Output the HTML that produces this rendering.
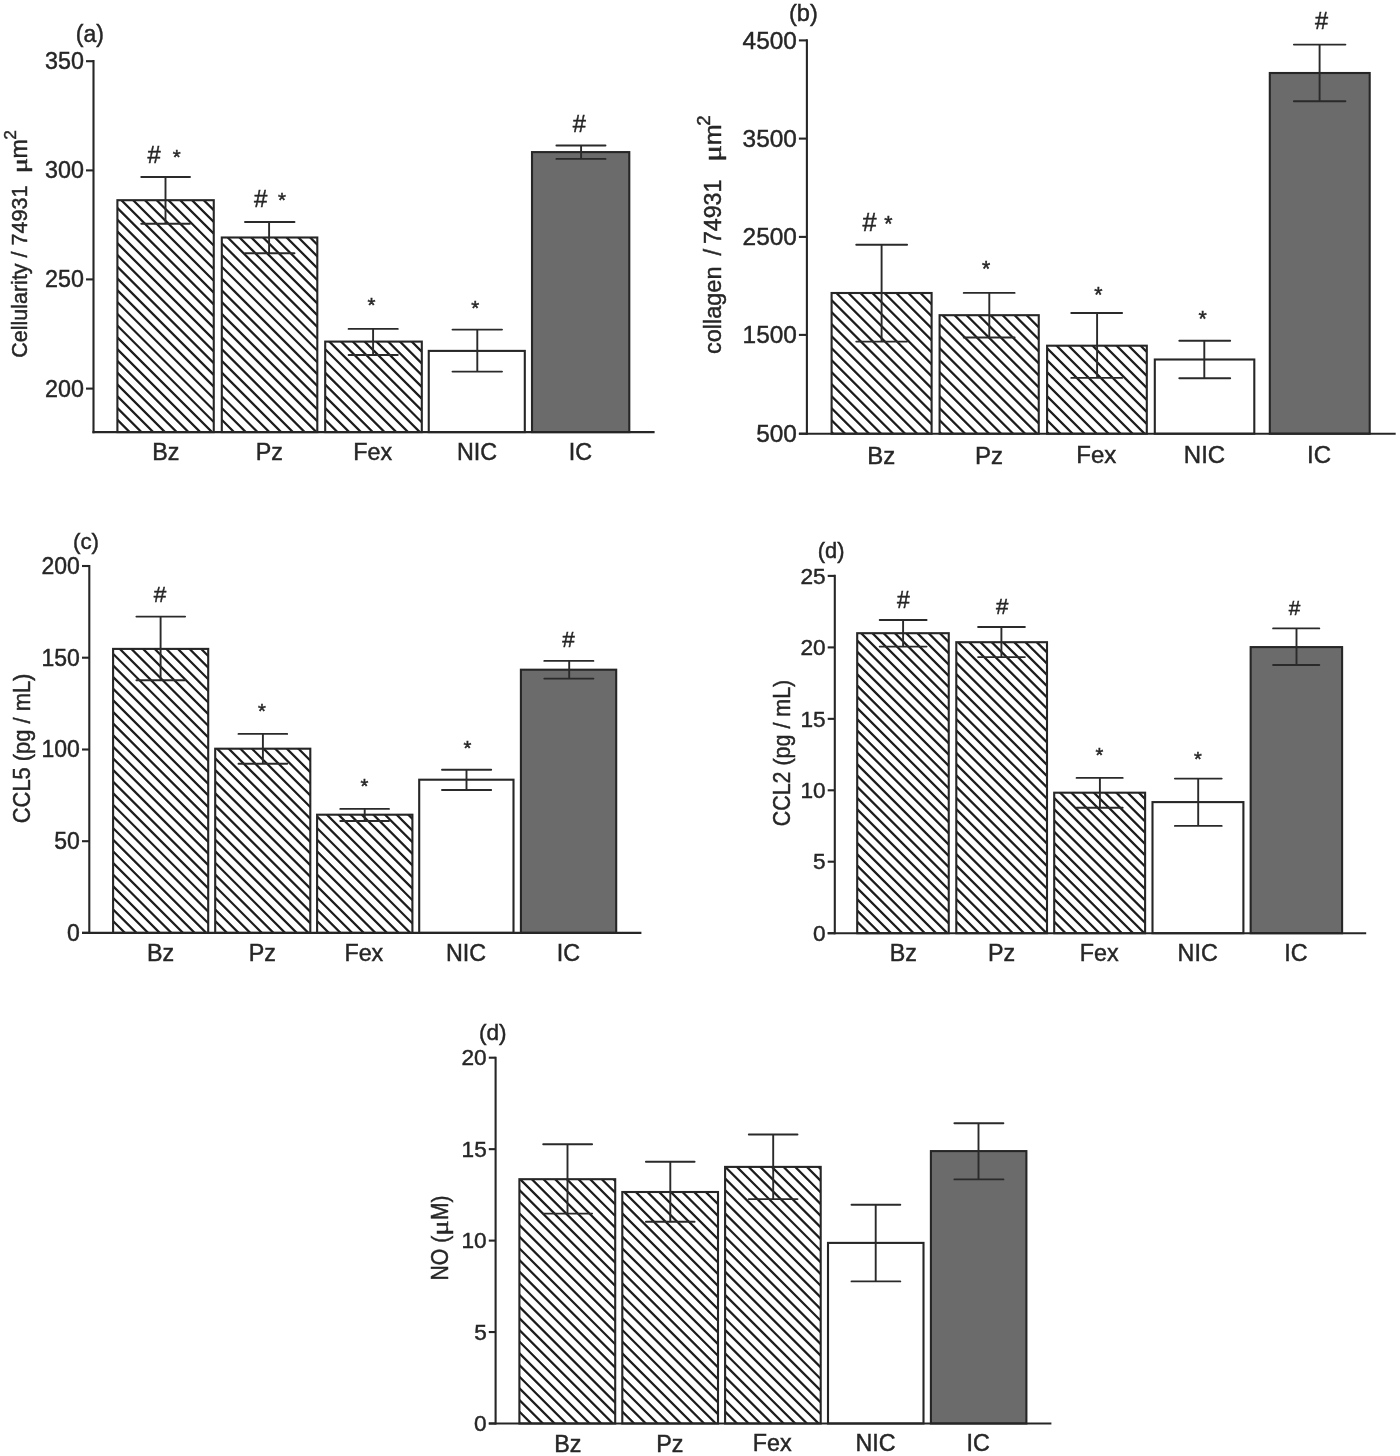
<!DOCTYPE html>
<html><head><meta charset="utf-8"><title>Figure</title>
<style>html,body{margin:0;padding:0;background:#fff;}body{width:1400px;height:1456px;overflow:hidden;font-family:"Liberation Sans",sans-serif;}svg{display:block;will-change:transform;}text{font-kerning:none;stroke:#262626;stroke-width:0.45px;}</style>
</head><body>
<svg width="1400" height="1456" viewBox="0 0 1400 1456" font-family="Liberation Sans, sans-serif" fill="#262626"><defs><clipPath id="c1"><rect x="117.40" y="200.20" width="96.35" height="231.90"/></clipPath><clipPath id="c2"><rect x="221.80" y="237.50" width="95.50" height="194.60"/></clipPath><clipPath id="c3"><rect x="325.20" y="341.60" width="96.60" height="90.50"/></clipPath><clipPath id="c4"><rect x="831.60" y="293.00" width="100.00" height="140.70"/></clipPath><clipPath id="c5"><rect x="939.60" y="315.20" width="99.15" height="118.50"/></clipPath><clipPath id="c6"><rect x="1047.10" y="345.70" width="99.70" height="88.00"/></clipPath><clipPath id="c7"><rect x="113.10" y="648.90" width="95.10" height="284.00"/></clipPath><clipPath id="c8"><rect x="215.20" y="748.70" width="95.10" height="184.20"/></clipPath><clipPath id="c9"><rect x="317.10" y="814.70" width="95.30" height="118.20"/></clipPath><clipPath id="c10"><rect x="857.20" y="633.20" width="91.55" height="300.00"/></clipPath><clipPath id="c11"><rect x="956.30" y="642.20" width="90.70" height="291.00"/></clipPath><clipPath id="c12"><rect x="1054.20" y="792.70" width="90.90" height="140.50"/></clipPath><clipPath id="c13"><rect x="519.40" y="1179.20" width="95.80" height="244.30"/></clipPath><clipPath id="c14"><rect x="622.30" y="1192.00" width="95.70" height="231.50"/></clipPath><clipPath id="c15"><rect x="725.10" y="1166.90" width="95.60" height="256.60"/></clipPath></defs><rect x="117.40" y="200.20" width="96.35" height="231.90" fill="#fff"/><path clip-path="url(#c1)" d="M-128.77 197.20L109.13 435.10M-117.00 197.20L120.90 435.10M-105.23 197.20L132.67 435.10M-93.46 197.20L144.44 435.10M-81.69 197.20L156.21 435.10M-69.92 197.20L167.98 435.10M-58.15 197.20L179.75 435.10M-46.38 197.20L191.52 435.10M-34.61 197.20L203.29 435.10M-22.84 197.20L215.06 435.10M-11.07 197.20L226.83 435.10M0.70 197.20L238.60 435.10M12.47 197.20L250.37 435.10M24.24 197.20L262.14 435.10M36.01 197.20L273.91 435.10M47.78 197.20L285.68 435.10M59.55 197.20L297.45 435.10M71.32 197.20L309.22 435.10M83.09 197.20L320.99 435.10M94.86 197.20L332.76 435.10M106.63 197.20L344.53 435.10M118.40 197.20L356.30 435.10M130.17 197.20L368.07 435.10M141.94 197.20L379.84 435.10M153.71 197.20L391.61 435.10M165.48 197.20L403.38 435.10M177.25 197.20L415.15 435.10M189.02 197.20L426.92 435.10M200.79 197.20L438.69 435.10M212.56 197.20L450.46 435.10" stroke="#1c1c1c" stroke-width="2.25" fill="none"/><rect x="117.40" y="200.20" width="96.35" height="231.90" fill="none" stroke="#262626" stroke-width="2.1"/><rect x="221.80" y="237.50" width="95.50" height="194.60" fill="#fff"/><path clip-path="url(#c2)" d="M12.93 234.50L213.53 435.10M24.70 234.50L225.30 435.10M36.47 234.50L237.07 435.10M48.24 234.50L248.84 435.10M60.01 234.50L260.61 435.10M71.78 234.50L272.38 435.10M83.55 234.50L284.15 435.10M95.32 234.50L295.92 435.10M107.09 234.50L307.69 435.10M118.86 234.50L319.46 435.10M130.63 234.50L331.23 435.10M142.40 234.50L343.00 435.10M154.17 234.50L354.77 435.10M165.94 234.50L366.54 435.10M177.71 234.50L378.31 435.10M189.48 234.50L390.08 435.10M201.25 234.50L401.85 435.10M213.02 234.50L413.62 435.10M224.79 234.50L425.39 435.10M236.56 234.50L437.16 435.10M248.33 234.50L448.93 435.10M260.10 234.50L460.70 435.10M271.87 234.50L472.47 435.10M283.64 234.50L484.24 435.10M295.41 234.50L496.01 435.10M307.18 234.50L507.78 435.10" stroke="#1c1c1c" stroke-width="2.25" fill="none"/><rect x="221.80" y="237.50" width="95.50" height="194.60" fill="none" stroke="#262626" stroke-width="2.1"/><rect x="325.20" y="341.60" width="96.60" height="90.50" fill="#fff"/><path clip-path="url(#c3)" d="M220.43 338.60L316.93 435.10M232.20 338.60L328.70 435.10M243.97 338.60L340.47 435.10M255.74 338.60L352.24 435.10M267.51 338.60L364.01 435.10M279.28 338.60L375.78 435.10M291.05 338.60L387.55 435.10M302.82 338.60L399.32 435.10M314.59 338.60L411.09 435.10M326.36 338.60L422.86 435.10M338.13 338.60L434.63 435.10M349.90 338.60L446.40 435.10M361.67 338.60L458.17 435.10M373.44 338.60L469.94 435.10M385.21 338.60L481.71 435.10M396.98 338.60L493.48 435.10M408.75 338.60L505.25 435.10M420.52 338.60L517.02 435.10" stroke="#1c1c1c" stroke-width="2.25" fill="none"/><rect x="325.20" y="341.60" width="96.60" height="90.50" fill="none" stroke="#262626" stroke-width="2.1"/><rect x="428.75" y="350.90" width="96.05" height="81.20" fill="#fff" stroke="#262626" stroke-width="2.1"/><rect x="532.00" y="152.10" width="97.30" height="280.00" fill="#6b6b6b" stroke="#262626" stroke-width="2.1"/><path d="M165.50 177.00V223.75M141.25 177.00H190.00M141.25 223.75H190.00" stroke="#2a2a2a" stroke-width="1.9" stroke-linecap="round" fill="none"/><path d="M269.10 222.00V253.20M245.00 222.00H294.50M245.00 253.20H294.50" stroke="#2a2a2a" stroke-width="1.9" stroke-linecap="round" fill="none"/><path d="M373.10 328.90V355.00M348.60 328.90H397.80M348.60 355.00H397.80" stroke="#2a2a2a" stroke-width="1.9" stroke-linecap="round" fill="none"/><path d="M477.30 329.60V371.60M452.50 329.60H502.00M452.50 371.60H502.00" stroke="#2a2a2a" stroke-width="1.9" stroke-linecap="round" fill="none"/><path d="M581.10 145.50V158.90M556.40 145.50H605.50M556.40 158.90H605.50" stroke="#2a2a2a" stroke-width="1.9" stroke-linecap="round" fill="none"/><line x1="93.50" y1="59.95" x2="93.50" y2="433.15" stroke="#262626" stroke-width="2.1"/><line x1="92.45" y1="432.10" x2="654.60" y2="432.10" stroke="#262626" stroke-width="2.1"/><line x1="86.00" y1="61.20" x2="93.50" y2="61.20" stroke="#262626" stroke-width="2.1"/><text x="45.04" y="69.22" font-size="23.3">350</text><line x1="86.00" y1="170.40" x2="93.50" y2="170.40" stroke="#262626" stroke-width="2.1"/><text x="45.04" y="178.42" font-size="23.3">300</text><line x1="86.00" y1="279.40" x2="93.50" y2="279.40" stroke="#262626" stroke-width="2.1"/><text x="45.04" y="287.42" font-size="23.3">250</text><line x1="86.00" y1="388.60" x2="93.50" y2="388.60" stroke="#262626" stroke-width="2.1"/><text x="45.04" y="396.62" font-size="23.3">200</text><text x="152.13" y="460.00" font-size="23.3" >Bz</text><text x="255.63" y="460.00" font-size="23.3" >Pz</text><text x="353.25" y="459.77" font-size="23.3" >Fex</text><text x="457.02" y="459.77" font-size="23.3" >NIC</text><text x="568.72" y="459.77" font-size="23.3" >IC</text><text x="147.62" y="162.61" font-size="23.7">#</text><text x="172.76" y="163.71" font-size="20.5">*</text><text x="254.03" y="206.51" font-size="24.0">#</text><text x="277.96" y="207.21" font-size="20.5">*</text><text x="367.56" y="311.96" font-size="20.5">*</text><text x="471.18" y="315.11" font-size="20.5">*</text><text x="572.82" y="132.21" font-size="23.7">#</text><text x="75.75" y="42.00" font-size="23.0">(a)</text><text transform="translate(26.60 357.79) rotate(-90) scale(0.9564 1)" x="0" y="0" font-size="22.5">Cellularity / 74931</text><text transform="translate(26.60 173.31) rotate(-90) scale(1.2954 1)" x="0" y="0" font-size="22" font-family="Liberation Serif">μ</text><text transform="translate(26.60 158.54) rotate(-90) scale(0.9899 1)" x="0" y="0" font-size="23.5">m</text><text transform="translate(15.90 139.87) rotate(-90) scale(1.0446 1)" x="0" y="0" font-size="16.6">2</text><rect x="831.60" y="293.00" width="100.00" height="140.70" fill="#fff"/><path clip-path="url(#c4)" d="M677.40 290.00L824.10 436.70M689.40 290.00L836.10 436.70M701.40 290.00L848.10 436.70M713.40 290.00L860.10 436.70M725.40 290.00L872.10 436.70M737.40 290.00L884.10 436.70M749.40 290.00L896.10 436.70M761.40 290.00L908.10 436.70M773.40 290.00L920.10 436.70M785.40 290.00L932.10 436.70M797.40 290.00L944.10 436.70M809.40 290.00L956.10 436.70M821.40 290.00L968.10 436.70M833.40 290.00L980.10 436.70M845.40 290.00L992.10 436.70M857.40 290.00L1004.10 436.70M869.40 290.00L1016.10 436.70M881.40 290.00L1028.10 436.70M893.40 290.00L1040.10 436.70M905.40 290.00L1052.10 436.70M917.40 290.00L1064.10 436.70M929.40 290.00L1076.10 436.70" stroke="#1c1c1c" stroke-width="2.25" fill="none"/><rect x="831.60" y="293.00" width="100.00" height="140.70" fill="none" stroke="#262626" stroke-width="2.1"/><rect x="939.60" y="315.20" width="99.15" height="118.50" fill="#fff"/><path clip-path="url(#c5)" d="M807.60 312.20L932.10 436.70M819.60 312.20L944.10 436.70M831.60 312.20L956.10 436.70M843.60 312.20L968.10 436.70M855.60 312.20L980.10 436.70M867.60 312.20L992.10 436.70M879.60 312.20L1004.10 436.70M891.60 312.20L1016.10 436.70M903.60 312.20L1028.10 436.70M915.60 312.20L1040.10 436.70M927.60 312.20L1052.10 436.70M939.60 312.20L1064.10 436.70M951.60 312.20L1076.10 436.70M963.60 312.20L1088.10 436.70M975.60 312.20L1100.10 436.70M987.60 312.20L1112.10 436.70M999.60 312.20L1124.10 436.70M1011.60 312.20L1136.10 436.70M1023.60 312.20L1148.10 436.70M1035.60 312.20L1160.10 436.70" stroke="#1c1c1c" stroke-width="2.25" fill="none"/><rect x="939.60" y="315.20" width="99.15" height="118.50" fill="none" stroke="#262626" stroke-width="2.1"/><rect x="1047.10" y="345.70" width="99.70" height="88.00" fill="#fff"/><path clip-path="url(#c6)" d="M945.60 342.70L1039.60 436.70M957.60 342.70L1051.60 436.70M969.60 342.70L1063.60 436.70M981.60 342.70L1075.60 436.70M993.60 342.70L1087.60 436.70M1005.60 342.70L1099.60 436.70M1017.60 342.70L1111.60 436.70M1029.60 342.70L1123.60 436.70M1041.60 342.70L1135.60 436.70M1053.60 342.70L1147.60 436.70M1065.60 342.70L1159.60 436.70M1077.60 342.70L1171.60 436.70M1089.60 342.70L1183.60 436.70M1101.60 342.70L1195.60 436.70M1113.60 342.70L1207.60 436.70M1125.60 342.70L1219.60 436.70M1137.60 342.70L1231.60 436.70" stroke="#1c1c1c" stroke-width="2.25" fill="none"/><rect x="1047.10" y="345.70" width="99.70" height="88.00" fill="none" stroke="#262626" stroke-width="2.1"/><rect x="1154.80" y="359.50" width="99.50" height="74.20" fill="#fff" stroke="#262626" stroke-width="2.1"/><rect x="1269.80" y="73.00" width="99.90" height="360.70" fill="#6b6b6b" stroke="#262626" stroke-width="2.1"/><path d="M881.60 244.80V341.60M856.25 244.80H907.10M856.25 341.60H907.10" stroke="#2a2a2a" stroke-width="1.9" stroke-linecap="round" fill="none"/><path d="M989.30 292.90V337.50M963.75 292.90H1014.60M963.75 337.50H1014.60" stroke="#2a2a2a" stroke-width="1.9" stroke-linecap="round" fill="none"/><path d="M1097.10 313.00V377.90M1071.25 313.00H1122.10M1071.25 377.90H1122.10" stroke="#2a2a2a" stroke-width="1.9" stroke-linecap="round" fill="none"/><path d="M1204.30 340.70V378.20M1179.30 340.70H1230.20M1179.30 378.20H1230.20" stroke="#2a2a2a" stroke-width="1.9" stroke-linecap="round" fill="none"/><path d="M1319.60 44.60V101.20M1293.90 44.60H1345.40M1293.90 101.20H1345.40" stroke="#2a2a2a" stroke-width="1.9" stroke-linecap="round" fill="none"/><line x1="806.90" y1="39.35" x2="806.90" y2="434.75" stroke="#262626" stroke-width="2.1"/><line x1="798.90" y1="433.70" x2="1395.70" y2="433.70" stroke="#262626" stroke-width="2.1"/><line x1="798.90" y1="40.40" x2="806.90" y2="40.40" stroke="#262626" stroke-width="2.1"/><text x="742.57" y="48.80" font-size="24.4">4500</text><line x1="798.90" y1="138.60" x2="806.90" y2="138.60" stroke="#262626" stroke-width="2.1"/><text x="742.57" y="147.00" font-size="24.4">3500</text><line x1="798.90" y1="236.90" x2="806.90" y2="236.90" stroke="#262626" stroke-width="2.1"/><text x="742.57" y="245.30" font-size="24.4">2500</text><line x1="798.90" y1="334.90" x2="806.90" y2="334.90" stroke="#262626" stroke-width="2.1"/><text x="742.57" y="343.30" font-size="24.4">1500</text><line x1="798.90" y1="433.70" x2="806.90" y2="433.70" stroke="#262626" stroke-width="2.1"/><text x="756.14" y="442.10" font-size="24.4">500</text><text x="867.21" y="463.60" font-size="24" >Bz</text><text x="974.91" y="463.60" font-size="24" >Pz</text><text x="1076.24" y="463.37" font-size="24" >Fex</text><text x="1183.81" y="463.37" font-size="24" >NIC</text><text x="1307.05" y="463.37" font-size="24" >IC</text><text x="862.55" y="230.60" font-size="25.3">#</text><text x="884.32" y="231.46" font-size="21.2">*</text><text x="982.12" y="276.14" font-size="21.2">*</text><text x="1094.37" y="301.56" font-size="21.2">*</text><text x="1198.52" y="325.69" font-size="21.2">*</text><text x="1314.92" y="28.59" font-size="23.5">#</text><text x="788.93" y="21.46" font-size="23.6">(b)</text><text transform="translate(720.80 354.00) rotate(-90) scale(0.9790 1)" x="0" y="0" font-size="24">collagen</text><text transform="translate(720.80 255.60) rotate(-90) scale(0.9898 1)" x="0" y="0" font-size="24">/</text><text transform="translate(720.80 244.09) rotate(-90) scale(0.9668 1)" x="0" y="0" font-size="24">74931</text><text transform="translate(720.80 161.63) rotate(-90) scale(1.2874 1)" x="0" y="0" font-size="24.2" font-family="Liberation Serif">μ</text><text transform="translate(720.80 145.36) rotate(-90) scale(1.0194 1)" x="0" y="0" font-size="24.5">m</text><text transform="translate(709.80 125.74) rotate(-90) scale(1.0366 1)" x="0" y="0" font-size="18">2</text><rect x="113.10" y="648.90" width="95.10" height="284.00" fill="#fff"/><path clip-path="url(#c7)" d="M-185.32 645.90L104.68 935.90M-173.70 645.90L116.30 935.90M-162.08 645.90L127.92 935.90M-150.46 645.90L139.54 935.90M-138.84 645.90L151.16 935.90M-127.22 645.90L162.78 935.90M-115.60 645.90L174.40 935.90M-103.98 645.90L186.02 935.90M-92.36 645.90L197.64 935.90M-80.74 645.90L209.26 935.90M-69.12 645.90L220.88 935.90M-57.50 645.90L232.50 935.90M-45.88 645.90L244.12 935.90M-34.26 645.90L255.74 935.90M-22.64 645.90L267.36 935.90M-11.02 645.90L278.98 935.90M0.60 645.90L290.60 935.90M12.22 645.90L302.22 935.90M23.84 645.90L313.84 935.90M35.46 645.90L325.46 935.90M47.08 645.90L337.08 935.90M58.70 645.90L348.70 935.90M70.32 645.90L360.32 935.90M81.94 645.90L371.94 935.90M93.56 645.90L383.56 935.90M105.18 645.90L395.18 935.90M116.80 645.90L406.80 935.90M128.42 645.90L418.42 935.90M140.04 645.90L430.04 935.90M151.66 645.90L441.66 935.90M163.28 645.90L453.28 935.90M174.90 645.90L464.90 935.90M186.52 645.90L476.52 935.90M198.14 645.90L488.14 935.90" stroke="#1c1c1c" stroke-width="2.25" fill="none"/><rect x="113.10" y="648.90" width="95.10" height="284.00" fill="none" stroke="#262626" stroke-width="2.1"/><rect x="215.20" y="748.70" width="95.10" height="184.20" fill="#fff"/><path clip-path="url(#c8)" d="M16.58 745.70L206.78 935.90M28.20 745.70L218.40 935.90M39.82 745.70L230.02 935.90M51.44 745.70L241.64 935.90M63.06 745.70L253.26 935.90M74.68 745.70L264.88 935.90M86.30 745.70L276.50 935.90M97.92 745.70L288.12 935.90M109.54 745.70L299.74 935.90M121.16 745.70L311.36 935.90M132.78 745.70L322.98 935.90M144.40 745.70L334.60 935.90M156.02 745.70L346.22 935.90M167.64 745.70L357.84 935.90M179.26 745.70L369.46 935.90M190.88 745.70L381.08 935.90M202.50 745.70L392.70 935.90M214.12 745.70L404.32 935.90M225.74 745.70L415.94 935.90M237.36 745.70L427.56 935.90M248.98 745.70L439.18 935.90M260.60 745.70L450.80 935.90M272.22 745.70L462.42 935.90M283.84 745.70L474.04 935.90M295.46 745.70L485.66 935.90M307.08 745.70L497.28 935.90" stroke="#1c1c1c" stroke-width="2.25" fill="none"/><rect x="215.20" y="748.70" width="95.10" height="184.20" fill="none" stroke="#262626" stroke-width="2.1"/><rect x="317.10" y="814.70" width="95.30" height="118.20" fill="#fff"/><path clip-path="url(#c9)" d="M184.48 811.70L308.68 935.90M196.10 811.70L320.30 935.90M207.72 811.70L331.92 935.90M219.34 811.70L343.54 935.90M230.96 811.70L355.16 935.90M242.58 811.70L366.78 935.90M254.20 811.70L378.40 935.90M265.82 811.70L390.02 935.90M277.44 811.70L401.64 935.90M289.06 811.70L413.26 935.90M300.68 811.70L424.88 935.90M312.30 811.70L436.50 935.90M323.92 811.70L448.12 935.90M335.54 811.70L459.74 935.90M347.16 811.70L471.36 935.90M358.78 811.70L482.98 935.90M370.40 811.70L494.60 935.90M382.02 811.70L506.22 935.90M393.64 811.70L517.84 935.90M405.26 811.70L529.46 935.90" stroke="#1c1c1c" stroke-width="2.25" fill="none"/><rect x="317.10" y="814.70" width="95.30" height="118.20" fill="none" stroke="#262626" stroke-width="2.1"/><rect x="419.20" y="779.70" width="94.30" height="153.20" fill="#fff" stroke="#262626" stroke-width="2.1"/><rect x="520.90" y="669.70" width="95.30" height="263.20" fill="#6b6b6b" stroke="#262626" stroke-width="2.1"/><path d="M160.60 616.60V680.30M136.40 616.60H185.10M136.40 680.30H185.10" stroke="#2a2a2a" stroke-width="1.9" stroke-linecap="round" fill="none"/><path d="M262.90 733.90V763.80M238.50 733.90H287.20M238.50 763.80H287.20" stroke="#2a2a2a" stroke-width="1.9" stroke-linecap="round" fill="none"/><path d="M364.70 808.90V821.00M340.30 808.90H389.00M340.30 821.00H389.00" stroke="#2a2a2a" stroke-width="1.9" stroke-linecap="round" fill="none"/><path d="M466.50 769.80V790.00M442.00 769.80H491.20M442.00 790.00H491.20" stroke="#2a2a2a" stroke-width="1.9" stroke-linecap="round" fill="none"/><path d="M569.20 660.90V678.60M544.30 660.90H593.40M544.30 678.60H593.40" stroke="#2a2a2a" stroke-width="1.9" stroke-linecap="round" fill="none"/><line x1="89.30" y1="564.95" x2="89.30" y2="933.95" stroke="#262626" stroke-width="2.1"/><line x1="82.00" y1="932.90" x2="641.40" y2="932.90" stroke="#262626" stroke-width="2.1"/><line x1="82.00" y1="566.00" x2="89.30" y2="566.00" stroke="#262626" stroke-width="2.1"/><text x="41.52" y="573.92" font-size="23">200</text><line x1="82.00" y1="657.70" x2="89.30" y2="657.70" stroke="#262626" stroke-width="2.1"/><text x="41.52" y="665.62" font-size="23">150</text><line x1="82.00" y1="749.50" x2="89.30" y2="749.50" stroke="#262626" stroke-width="2.1"/><text x="41.52" y="757.42" font-size="23">100</text><line x1="82.00" y1="841.20" x2="89.30" y2="841.20" stroke="#262626" stroke-width="2.1"/><text x="54.32" y="849.12" font-size="23">50</text><line x1="82.00" y1="932.90" x2="89.30" y2="932.90" stroke="#262626" stroke-width="2.1"/><text x="67.11" y="940.82" font-size="23">0</text><text x="147.03" y="960.90" font-size="23.3" >Bz</text><text x="248.83" y="960.90" font-size="23.3" >Pz</text><text x="344.45" y="960.67" font-size="23.3" >Fex</text><text x="445.92" y="960.67" font-size="23.3" >NIC</text><text x="556.72" y="960.67" font-size="23.3" >IC</text><text x="153.65" y="601.70" font-size="22.5">#</text><text x="257.90" y="718.30" font-size="20.3">*</text><text x="360.60" y="793.35" font-size="20.3">*</text><text x="463.50" y="754.95" font-size="20.3">*</text><text x="562.35" y="646.60" font-size="22.5">#</text><text x="73.05" y="549.12" font-size="22.3">(c)</text><text transform="translate(29.50 823.21) rotate(-90) scale(0.9438 1)" x="0" y="0" font-size="23.2">CCL5 (pg / mL)</text><rect x="857.20" y="633.20" width="91.55" height="300.00" fill="#fff"/><path clip-path="url(#c10)" d="M543.15 630.20L849.15 936.20M554.40 630.20L860.40 936.20M565.65 630.20L871.65 936.20M576.90 630.20L882.90 936.20M588.15 630.20L894.15 936.20M599.40 630.20L905.40 936.20M610.65 630.20L916.65 936.20M621.90 630.20L927.90 936.20M633.15 630.20L939.15 936.20M644.40 630.20L950.40 936.20M655.65 630.20L961.65 936.20M666.90 630.20L972.90 936.20M678.15 630.20L984.15 936.20M689.40 630.20L995.40 936.20M700.65 630.20L1006.65 936.20M711.90 630.20L1017.90 936.20M723.15 630.20L1029.15 936.20M734.40 630.20L1040.40 936.20M745.65 630.20L1051.65 936.20M756.90 630.20L1062.90 936.20M768.15 630.20L1074.15 936.20M779.40 630.20L1085.40 936.20M790.65 630.20L1096.65 936.20M801.90 630.20L1107.90 936.20M813.15 630.20L1119.15 936.20M824.40 630.20L1130.40 936.20M835.65 630.20L1141.65 936.20M846.90 630.20L1152.90 936.20M858.15 630.20L1164.15 936.20M869.40 630.20L1175.40 936.20M880.65 630.20L1186.65 936.20M891.90 630.20L1197.90 936.20M903.15 630.20L1209.15 936.20M914.40 630.20L1220.40 936.20M925.65 630.20L1231.65 936.20M936.90 630.20L1242.90 936.20" stroke="#1c1c1c" stroke-width="2.25" fill="none"/><rect x="857.20" y="633.20" width="91.55" height="300.00" fill="none" stroke="#262626" stroke-width="2.1"/><rect x="956.30" y="642.20" width="90.70" height="291.00" fill="#fff"/><path clip-path="url(#c11)" d="M651.25 639.20L948.25 936.20M662.50 639.20L959.50 936.20M673.75 639.20L970.75 936.20M685.00 639.20L982.00 936.20M696.25 639.20L993.25 936.20M707.50 639.20L1004.50 936.20M718.75 639.20L1015.75 936.20M730.00 639.20L1027.00 936.20M741.25 639.20L1038.25 936.20M752.50 639.20L1049.50 936.20M763.75 639.20L1060.75 936.20M775.00 639.20L1072.00 936.20M786.25 639.20L1083.25 936.20M797.50 639.20L1094.50 936.20M808.75 639.20L1105.75 936.20M820.00 639.20L1117.00 936.20M831.25 639.20L1128.25 936.20M842.50 639.20L1139.50 936.20M853.75 639.20L1150.75 936.20M865.00 639.20L1162.00 936.20M876.25 639.20L1173.25 936.20M887.50 639.20L1184.50 936.20M898.75 639.20L1195.75 936.20M910.00 639.20L1207.00 936.20M921.25 639.20L1218.25 936.20M932.50 639.20L1229.50 936.20M943.75 639.20L1240.75 936.20M955.00 639.20L1252.00 936.20M966.25 639.20L1263.25 936.20M977.50 639.20L1274.50 936.20M988.75 639.20L1285.75 936.20M1000.00 639.20L1297.00 936.20M1011.25 639.20L1308.25 936.20M1022.50 639.20L1319.50 936.20M1033.75 639.20L1330.75 936.20M1045.00 639.20L1342.00 936.20" stroke="#1c1c1c" stroke-width="2.25" fill="none"/><rect x="956.30" y="642.20" width="90.70" height="291.00" fill="none" stroke="#262626" stroke-width="2.1"/><rect x="1054.20" y="792.70" width="90.90" height="140.50" fill="#fff"/><path clip-path="url(#c12)" d="M899.65 789.70L1046.15 936.20M910.90 789.70L1057.40 936.20M922.15 789.70L1068.65 936.20M933.40 789.70L1079.90 936.20M944.65 789.70L1091.15 936.20M955.90 789.70L1102.40 936.20M967.15 789.70L1113.65 936.20M978.40 789.70L1124.90 936.20M989.65 789.70L1136.15 936.20M1000.90 789.70L1147.40 936.20M1012.15 789.70L1158.65 936.20M1023.40 789.70L1169.90 936.20M1034.65 789.70L1181.15 936.20M1045.90 789.70L1192.40 936.20M1057.15 789.70L1203.65 936.20M1068.40 789.70L1214.90 936.20M1079.65 789.70L1226.15 936.20M1090.90 789.70L1237.40 936.20M1102.15 789.70L1248.65 936.20M1113.40 789.70L1259.90 936.20M1124.65 789.70L1271.15 936.20M1135.90 789.70L1282.40 936.20" stroke="#1c1c1c" stroke-width="2.25" fill="none"/><rect x="1054.20" y="792.70" width="90.90" height="140.50" fill="none" stroke="#262626" stroke-width="2.1"/><rect x="1152.50" y="802.10" width="90.90" height="131.10" fill="#fff" stroke="#262626" stroke-width="2.1"/><rect x="1250.65" y="647.10" width="91.45" height="286.10" fill="#6b6b6b" stroke="#262626" stroke-width="2.1"/><path d="M903.10 620.00V646.60M879.70 620.00H926.60M879.70 646.60H926.60" stroke="#2a2a2a" stroke-width="1.9" stroke-linecap="round" fill="none"/><path d="M1001.40 627.00V657.10M978.10 627.00H1024.90M978.10 657.10H1024.90" stroke="#2a2a2a" stroke-width="1.9" stroke-linecap="round" fill="none"/><path d="M1099.90 777.90V807.80M1076.60 777.90H1122.70M1076.60 807.80H1122.70" stroke="#2a2a2a" stroke-width="1.9" stroke-linecap="round" fill="none"/><path d="M1198.20 778.60V825.90M1174.90 778.60H1221.70M1174.90 825.90H1221.70" stroke="#2a2a2a" stroke-width="1.9" stroke-linecap="round" fill="none"/><path d="M1296.50 628.40V665.00M1273.10 628.40H1319.30M1273.10 665.00H1319.30" stroke="#2a2a2a" stroke-width="1.9" stroke-linecap="round" fill="none"/><line x1="834.80" y1="574.85" x2="834.80" y2="934.25" stroke="#262626" stroke-width="2.1"/><line x1="827.70" y1="933.20" x2="1366.20" y2="933.20" stroke="#262626" stroke-width="2.1"/><line x1="827.70" y1="575.90" x2="834.80" y2="575.90" stroke="#262626" stroke-width="2.1"/><text x="800.51" y="583.68" font-size="22.6">25</text><line x1="827.70" y1="647.40" x2="834.80" y2="647.40" stroke="#262626" stroke-width="2.1"/><text x="800.44" y="655.18" font-size="22.6">20</text><line x1="827.70" y1="718.85" x2="834.80" y2="718.85" stroke="#262626" stroke-width="2.1"/><text x="800.51" y="726.51" font-size="22.6">15</text><line x1="827.70" y1="790.30" x2="834.80" y2="790.30" stroke="#262626" stroke-width="2.1"/><text x="800.44" y="798.08" font-size="22.6">10</text><line x1="827.70" y1="861.70" x2="834.80" y2="861.70" stroke="#262626" stroke-width="2.1"/><text x="813.08" y="869.36" font-size="22.6">5</text><line x1="827.70" y1="933.20" x2="834.80" y2="933.20" stroke="#262626" stroke-width="2.1"/><text x="813.01" y="940.98" font-size="22.6">0</text><text x="889.73" y="961.00" font-size="23.3" >Bz</text><text x="988.03" y="961.00" font-size="23.3" >Pz</text><text x="1079.75" y="960.77" font-size="23.3" >Fex</text><text x="1177.62" y="960.77" font-size="23.3" >NIC</text><text x="1284.22" y="960.77" font-size="23.3" >IC</text><text x="896.91" y="607.72" font-size="23.0">#</text><text x="995.98" y="613.99" font-size="22.2">#</text><text x="1095.55" y="762.10" font-size="20">*</text><text x="1194.00" y="765.95" font-size="20">*</text><text x="1288.87" y="614.81" font-size="20.8">#</text><text x="817.83" y="557.74" font-size="21.8">(d)</text><text transform="translate(789.50 826.29) rotate(-90) scale(0.9246 1)" x="0" y="0" font-size="23.2">CCL2 (pg / mL)</text><rect x="519.40" y="1179.20" width="95.80" height="244.30" fill="#fff"/><path clip-path="url(#c13)" d="M260.64 1176.20L510.94 1426.50M272.30 1176.20L522.60 1426.50M283.96 1176.20L534.26 1426.50M295.62 1176.20L545.92 1426.50M307.28 1176.20L557.58 1426.50M318.94 1176.20L569.24 1426.50M330.60 1176.20L580.90 1426.50M342.26 1176.20L592.56 1426.50M353.92 1176.20L604.22 1426.50M365.58 1176.20L615.88 1426.50M377.24 1176.20L627.54 1426.50M388.90 1176.20L639.20 1426.50M400.56 1176.20L650.86 1426.50M412.22 1176.20L662.52 1426.50M423.88 1176.20L674.18 1426.50M435.54 1176.20L685.84 1426.50M447.20 1176.20L697.50 1426.50M458.86 1176.20L709.16 1426.50M470.52 1176.20L720.82 1426.50M482.18 1176.20L732.48 1426.50M493.84 1176.20L744.14 1426.50M505.50 1176.20L755.80 1426.50M517.16 1176.20L767.46 1426.50M528.82 1176.20L779.12 1426.50M540.48 1176.20L790.78 1426.50M552.14 1176.20L802.44 1426.50M563.80 1176.20L814.10 1426.50M575.46 1176.20L825.76 1426.50M587.12 1176.20L837.42 1426.50M598.78 1176.20L849.08 1426.50M610.44 1176.20L860.74 1426.50" stroke="#1c1c1c" stroke-width="2.25" fill="none"/><rect x="519.40" y="1179.20" width="95.80" height="244.30" fill="none" stroke="#262626" stroke-width="2.1"/><rect x="622.30" y="1192.00" width="95.70" height="231.50" fill="#fff"/><path clip-path="url(#c14)" d="M376.34 1189.00L613.84 1426.50M388.00 1189.00L625.50 1426.50M399.66 1189.00L637.16 1426.50M411.32 1189.00L648.82 1426.50M422.98 1189.00L660.48 1426.50M434.64 1189.00L672.14 1426.50M446.30 1189.00L683.80 1426.50M457.96 1189.00L695.46 1426.50M469.62 1189.00L707.12 1426.50M481.28 1189.00L718.78 1426.50M492.94 1189.00L730.44 1426.50M504.60 1189.00L742.10 1426.50M516.26 1189.00L753.76 1426.50M527.92 1189.00L765.42 1426.50M539.58 1189.00L777.08 1426.50M551.24 1189.00L788.74 1426.50M562.90 1189.00L800.40 1426.50M574.56 1189.00L812.06 1426.50M586.22 1189.00L823.72 1426.50M597.88 1189.00L835.38 1426.50M609.54 1189.00L847.04 1426.50M621.20 1189.00L858.70 1426.50M632.86 1189.00L870.36 1426.50M644.52 1189.00L882.02 1426.50M656.18 1189.00L893.68 1426.50M667.84 1189.00L905.34 1426.50M679.50 1189.00L917.00 1426.50M691.16 1189.00L928.66 1426.50M702.82 1189.00L940.32 1426.50M714.48 1189.00L951.98 1426.50" stroke="#1c1c1c" stroke-width="2.25" fill="none"/><rect x="622.30" y="1192.00" width="95.70" height="231.50" fill="none" stroke="#262626" stroke-width="2.1"/><rect x="725.10" y="1166.90" width="95.60" height="256.60" fill="#fff"/><path clip-path="url(#c15)" d="M454.04 1163.90L716.64 1426.50M465.70 1163.90L728.30 1426.50M477.36 1163.90L739.96 1426.50M489.02 1163.90L751.62 1426.50M500.68 1163.90L763.28 1426.50M512.34 1163.90L774.94 1426.50M524.00 1163.90L786.60 1426.50M535.66 1163.90L798.26 1426.50M547.32 1163.90L809.92 1426.50M558.98 1163.90L821.58 1426.50M570.64 1163.90L833.24 1426.50M582.30 1163.90L844.90 1426.50M593.96 1163.90L856.56 1426.50M605.62 1163.90L868.22 1426.50M617.28 1163.90L879.88 1426.50M628.94 1163.90L891.54 1426.50M640.60 1163.90L903.20 1426.50M652.26 1163.90L914.86 1426.50M663.92 1163.90L926.52 1426.50M675.58 1163.90L938.18 1426.50M687.24 1163.90L949.84 1426.50M698.90 1163.90L961.50 1426.50M710.56 1163.90L973.16 1426.50M722.22 1163.90L984.82 1426.50M733.88 1163.90L996.48 1426.50M745.54 1163.90L1008.14 1426.50M757.20 1163.90L1019.80 1426.50M768.86 1163.90L1031.46 1426.50M780.52 1163.90L1043.12 1426.50M792.18 1163.90L1054.78 1426.50M803.84 1163.90L1066.44 1426.50M815.50 1163.90L1078.10 1426.50" stroke="#1c1c1c" stroke-width="2.25" fill="none"/><rect x="725.10" y="1166.90" width="95.60" height="256.60" fill="none" stroke="#262626" stroke-width="2.1"/><rect x="828.00" y="1242.90" width="95.50" height="180.60" fill="#fff" stroke="#262626" stroke-width="2.1"/><rect x="930.90" y="1151.10" width="95.50" height="272.40" fill="#6b6b6b" stroke="#262626" stroke-width="2.1"/><path d="M567.50 1144.30V1213.60M543.20 1144.30H592.10M543.20 1213.60H592.10" stroke="#2a2a2a" stroke-width="1.9" stroke-linecap="round" fill="none"/><path d="M670.30 1161.80V1221.80M645.90 1161.80H694.60M645.90 1221.80H694.60" stroke="#2a2a2a" stroke-width="1.9" stroke-linecap="round" fill="none"/><path d="M773.20 1134.50V1199.10M748.80 1134.50H797.50M748.80 1199.10H797.50" stroke="#2a2a2a" stroke-width="1.9" stroke-linecap="round" fill="none"/><path d="M875.70 1204.80V1281.40M851.50 1204.80H900.30M851.50 1281.40H900.30" stroke="#2a2a2a" stroke-width="1.9" stroke-linecap="round" fill="none"/><path d="M978.50 1123.20V1179.40M954.40 1123.20H1003.40M954.40 1179.40H1003.40" stroke="#2a2a2a" stroke-width="1.9" stroke-linecap="round" fill="none"/><line x1="495.60" y1="1056.65" x2="495.60" y2="1424.55" stroke="#262626" stroke-width="2.1"/><line x1="488.80" y1="1423.50" x2="1051.40" y2="1423.50" stroke="#262626" stroke-width="2.1"/><line x1="488.80" y1="1057.70" x2="495.60" y2="1057.70" stroke="#262626" stroke-width="2.1"/><text x="461.54" y="1065.48" font-size="22.6">20</text><line x1="488.80" y1="1149.15" x2="495.60" y2="1149.15" stroke="#262626" stroke-width="2.1"/><text x="461.61" y="1156.81" font-size="22.6">15</text><line x1="488.80" y1="1240.60" x2="495.60" y2="1240.60" stroke="#262626" stroke-width="2.1"/><text x="461.54" y="1248.38" font-size="22.6">10</text><line x1="488.80" y1="1332.05" x2="495.60" y2="1332.05" stroke="#262626" stroke-width="2.1"/><text x="474.18" y="1339.71" font-size="22.6">5</text><line x1="488.80" y1="1423.50" x2="495.60" y2="1423.50" stroke="#262626" stroke-width="2.1"/><text x="474.11" y="1431.28" font-size="22.6">0</text><text x="554.23" y="1451.50" font-size="23.3" >Bz</text><text x="656.23" y="1451.50" font-size="23.3" >Pz</text><text x="752.75" y="1451.27" font-size="23.3" >Fex</text><text x="855.42" y="1451.27" font-size="23.3" >NIC</text><text x="966.52" y="1451.27" font-size="23.3" >IC</text><text x="479.04" y="1040.25" font-size="22.6">(d)</text><text transform="translate(448.40 1280.44) rotate(-90) scale(0.9024 1)" x="0" y="0" font-size="23.5">NO (</text><text transform="translate(448.40 1235.73) rotate(-90) scale(1.2230 1)" x="0" y="0" font-size="23.5" font-family="Liberation Serif">μ</text><text transform="translate(448.40 1219.92) rotate(-90) scale(0.8911 1)" x="0" y="0" font-size="23.5">M)</text></svg>
</body></html>
